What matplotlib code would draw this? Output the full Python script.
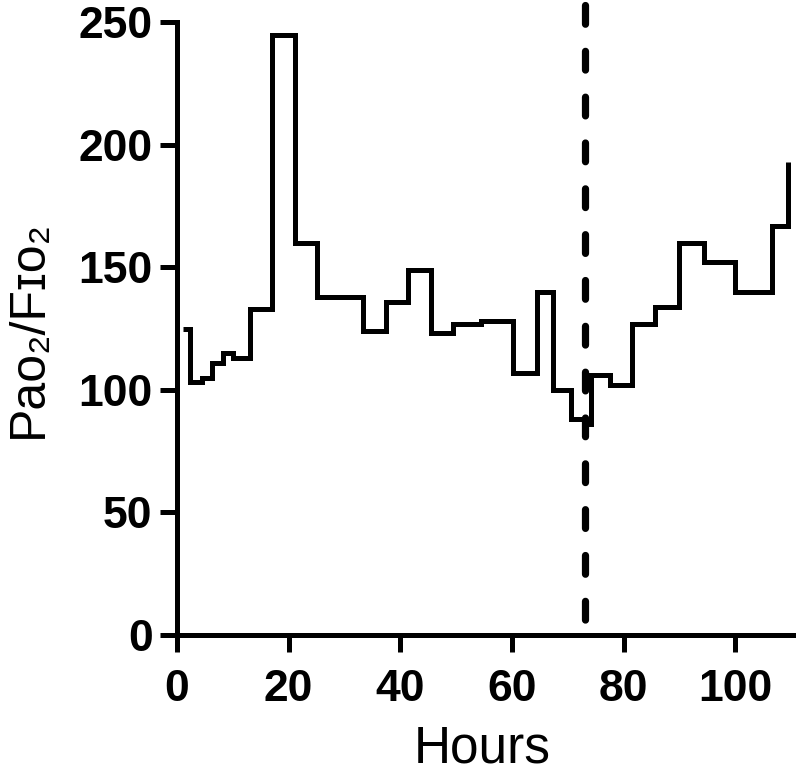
import matplotlib
matplotlib.use("Agg")
import matplotlib.pyplot as plt
from matplotlib import rcParams

# step data (hours, PaO2/FiO2)
hours = [1.1, 2.4, 4.5, 6.2, 8.3, 10.1, 13.0, 17.0, 21.1, 25.0, 33.3, 37.5,
         41.4, 45.4, 49.4, 54.4, 60.2, 64.4, 67.4, 70.5, 72.8, 74.1, 77.6,
         81.4, 85.6, 89.9, 94.4, 100.0, 106.5, 109.4]
ratio = [125, 103, 105, 111, 115, 113, 133, 245, 160, 138, 124, 136,
         149, 123, 127, 128, 107, 140, 100, 88, 86, 106, 102,
         127, 134, 160, 152, 140, 167, 193]
event_hour = 73.1

xticks = [0, 20, 40, 60, 80, 100]
yticks = [0, 50, 100, 150, 200, 250]

rcParams["font.family"] = ["Liberation Sans", "DejaVu Sans"]
rcParams["lines.scale_dashes"] = False

fig = plt.figure(figsize=(7.97, 7.75), dpi=100)
ax = fig.add_axes([0.222, 0.181, 0.773, 0.790])

ax.step(hours, ratio, where="post", color="black", lw=3.6,
        solid_joinstyle="miter", solid_capstyle="butt")

# dashed marker line, runs a little above the axis top
ax.plot([event_hour, event_hour], [257, 0], color="black", lw=5.2,
        dashes=(13.5, 19.5), dash_capstyle="round", clip_on=False)

ax.set_xlim(0, 110.3)
ax.set_ylim(0, 250)
ax.set_xticks(xticks)
ax.set_yticks(yticks)

for s in ["top", "right"]:
    ax.spines[s].set_visible(False)
for s in ["left", "bottom"]:
    ax.spines[s].set_linewidth(3.6)
    ax.spines[s].set_capstyle("projecting")

ax.tick_params(width=3.6, length=12.5, labelsize=32)
ax.tick_params(axis="x", pad=12)
ax.tick_params(axis="y", pad=5)
for lab in ax.get_xticklabels() + ax.get_yticklabels():
    lab.set_fontweight("bold")

ax.set_xlabel("Hours", fontsize=37)
ax.set_ylabel("Pa\u1d0f\u2082/F\u026a\u1d0f\u2082", fontsize=36)
ax.xaxis.set_label_coords(0.495, -0.146)
ax.yaxis.set_label_coords(-0.203, 0.5)

fig.savefig("out.png", dpi=100)
